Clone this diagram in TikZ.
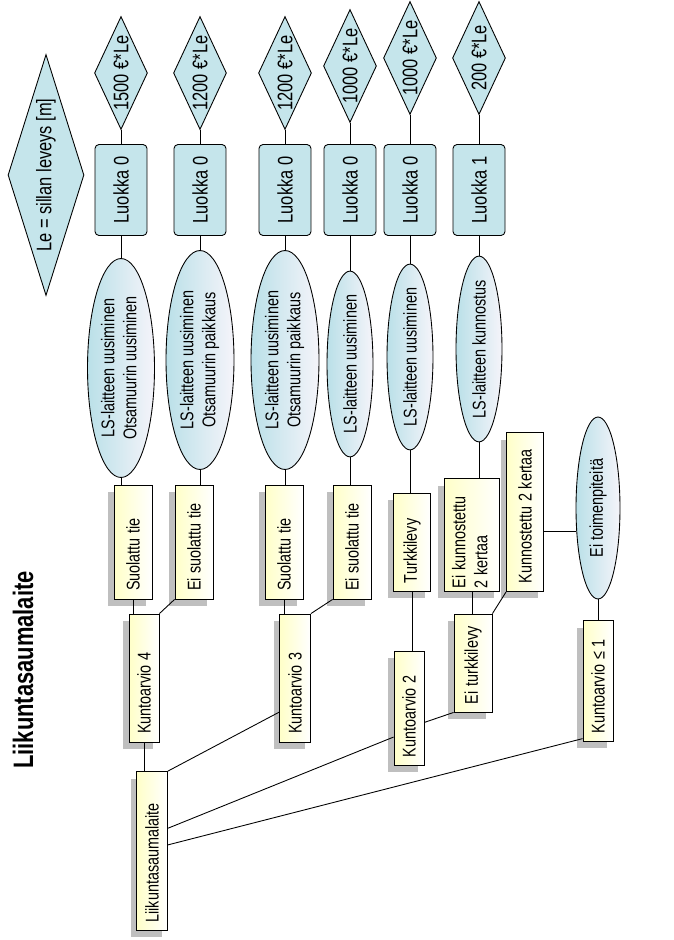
\documentclass[tikz,border=0pt]{standalone}
\usepackage{fontspec}
\usepackage{graphicx}
\setmainfont{Liberation Sans}
\usetikzlibrary{shapes,arrows,shadows}
\newcommand{\cn}[1]{\scalebox{0.78}[1]{#1}}
\definecolor{lkblue}{RGB}{197,229,235}
\definecolor{elblue}{RGB}{186,224,232}
\definecolor{elwhite}{RGB}{245,244,250}
\definecolor{ybyel}{RGB}{255,255,200}
\tikzstyle{dm} = [diamond, shape aspect=2.2, draw=black, fill=lkblue, rotate=90, inner sep=0pt, minimum width=2.26cm, minimum height=1.06cm, font=\fontsize{12}{14}\selectfont]
\tikzstyle{lk} = [rectangle, rounded corners=0.08cm, draw=black, fill=lkblue, rotate=90, minimum width=1.82cm, minimum height=1.04cm, font=\fontsize{12}{14}\selectfont]
\tikzstyle{el} = [ellipse, draw=black, left color=elblue, right color=elwhite, rotate=90, inner xsep=-2pt, inner ysep=0pt]
\tikzstyle{yb} = [rectangle, draw=black, left color=ybyel, right color=white, rotate=90, align=left, inner xsep=0.16cm, minimum height=0.76cm, drop shadow={shadow xshift=-0.12cm, shadow yshift=-0.14cm, fill=black!25, opacity=1}]
\tikzstyle{ka} = [yb, minimum height=0.6cm]

\begin{document}
\begin{tikzpicture}[x=0.02cm, y=-0.02cm, line width=0.5pt, font=\fontsize{10.5}{12.5}\selectfont]
		\useasboundingbox (0,0) rectangle (673,940);
		\node[rotate=90, font=\fontsize{16}{18}\selectfont\bfseries](title) at (23,670){\cn{Liikuntasaumalaite}};
		\node[diamond, draw=black, fill=lkblue, inner sep=0pt, shape aspect=0.315, minimum width=1.52cm, minimum height=4.82cm, font=\fontsize{12}{14}\selectfont](le) at (46,175){\rotatebox{90}{\cn{Le = sillan leveys [m]}}};
		
		\node[dm](d1) at (121,73){\cn{1500 €*Le}};
		\node[dm](d2) at (200,73){\cn{1200 €*Le}};
		\node[dm](d3) at (285,73){\cn{1200 €*Le}};
		\node[dm](d4) at (350,66){\cn{1000 €*Le}};
		\node[dm](d5) at (410,58){\cn{1000 €*Le}};
		\node[dm](d6) at (479,58){\cn{200 €*Le}};
		
		\node[lk](l1) at (121,190){\cn{Luokka 0}};
		\node[lk](l2) at (200,190){\cn{Luokka 0}};
		\node[lk](l3) at (285,190){\cn{Luokka 0}};
		\node[lk](l4) at (350,190){\cn{Luokka 0}};
		\node[lk](l5) at (410,190){\cn{Luokka 0}};
		\node[lk](l6) at (479,190){\cn{Luokka 1}};
		
		\node[el, minimum width=4.38cm, minimum height=1.34cm](e1) at (121,368){\cn{\begin{tabular}{@{}c@{}}LS-laitteen uusiminen\\Otsamuurin uusiminen\end{tabular}}};
		\node[el, minimum width=4.38cm, minimum height=1.36cm](e2) at (200,360){\cn{\begin{tabular}{@{}c@{}}LS-laitteen uusiminen\\Otsamuurin paikkaus\end{tabular}}};
		\node[el, minimum width=4.38cm, minimum height=1.36cm](e3) at (285,360){\cn{\begin{tabular}{@{}c@{}}LS-laitteen uusiminen\\Otsamuurin paikkaus\end{tabular}}};
		\node[el, minimum width=3.64cm, minimum height=0.92cm](e4) at (350,364){\cn{LS-laitteen uusiminen}};
		\node[el, minimum width=3.64cm, minimum height=0.92cm](e5) at (410,357){\cn{LS-laitteen uusiminen}};
		\node[el, minimum width=3.64cm, minimum height=0.92cm](e6) at (479,349){\cn{LS-laitteen kunnostus}};
		\node[el, minimum width=3.64cm, minimum height=0.88cm](e7) at (598,508){\cn{Ei toimenpiteitä}};
		
		\node[yb, text width=1.96cm](y1) at (133,542){\cn{Suolattu tie}};
		\node[yb, text width=1.96cm](y2) at (194,542){\cn{Ei suolattu tie}};
		\node[yb, text width=1.96cm](y3) at (284,542){\cn{Suolattu tie}};
		\node[yb, text width=1.96cm](y4) at (352,542){\cn{Ei suolattu tie}};
		\node[yb, text width=1.64cm, minimum height=0.74cm](y5) at (412,542){\cn{Turkkilevy}};
		\node[yb, text width=2.14cm, inner xsep=0.06cm, minimum height=1.06cm](y6) at (472,535){\cn{\begin{tabular}{@{}l@{}}Ei kunnostettu\\2 kertaa\end{tabular}}};
		\node[yb, text width=2.86cm, minimum height=0.74cm](y7) at (525,512){\cn{Kunnostettu 2 kertaa}};
		\node[yb, text width=1.64cm](y8) at (473,663){\cn{Ei turkkilevy}};
		
		\node[ka, text width=2.24cm](k4) at (144,678){\cn{Kuntoarvio 4}};
		\node[ka, text width=2.24cm, minimum height=0.62cm](k3) at (295,678){\cn{Kuntoarvio 3}};
		\node[ka, text width=1.96cm](k2) at (409,708){\cn{Kuntoarvio 2}};
		\node[ka, text width=2.10cm](k1) at (598,681){\cn{Kuntoarvio ≤ 1}};
		\node[ka, text width=2.86cm, minimum height=0.62cm](root) at (152,851){\cn{Liikuntasaumalaite}};
		
		\draw(d1)--(l1);
		\draw(d2)--(l2);
		\draw(d3)--(l3);
		\draw(d4)--(l4);
		\draw(d5)--(l5);
		\draw(d6)--(l6);
		\draw(l1)--(e1);
		\draw(l2)--(e2);
		\draw(l3)--(e3);
		\draw(l4)--(e4);
		\draw(l5)--(e5);
		\draw(l6)--(e6);
		\draw(e1)--(e1 |- y1.east);
		\draw(e2)--(e2 |- y2.east);
		\draw(e3)--(e3 |- y3.east);
		\draw(e4)--(e4 |- y4.east);
		\draw(e5)--(e5 |- y5.east);
		\draw(e6)--(e6 |- y6.east);
		\draw(y7.-136)--(y7.-136 -| e7.north);
		\draw(e7)--(k1);
		
		\draw(y1.west)--(y1.west |- k4.east);
		\draw(y2.north west)--(k4.south east);
		\draw(y3.west)--(y3.west |- k3.east);
		\draw(y4.north west)--(k3.south east);
		\draw(y5.west)--(y5.west |- k2.east);
		\draw(y6.west)--(y6.west |- y8.east);
		\draw(y7.north west)--(y8.south east);
		\draw(y8.north west)--(k2.-133);
		
		\draw(k4.west)--(k4.west |- root.east);
		\draw(k3.155)--(root.south east);
		\draw(root.-35)--(k2.152);
		\draw(root.-69)--(k1.165);
	\end{tikzpicture}
\end{document}
